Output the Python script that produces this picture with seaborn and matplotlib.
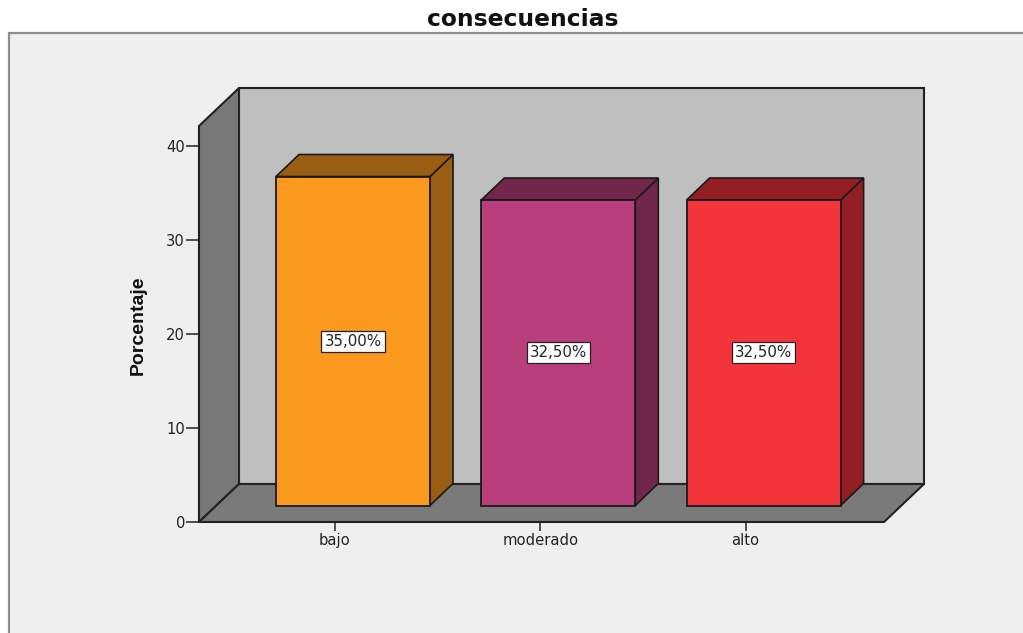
import matplotlib
matplotlib.use("Agg")
import matplotlib.pyplot as plt
import matplotlib.transforms as mtrans
from matplotlib.patches import Polygon, Rectangle
import pandas as pd
import seaborn as sns

categorias = ["bajo", "moderado", "alto"]
porcentajes = [35.0, 32.5, 32.5]
etiquetas = ["35,00%", "32,50%", "32,50%"]
yticks = [0, 10, 20, 30, 40]
colores = ["#FB991E", "#B93E7C", "#F3343B"]
colores_lado = ["#9A5E12", "#72264C", "#931F24"]
TITULO = "consecuencias"
YLABEL = "Porcentaje"

W, H = 1023, 633
sns.set_theme(style="white")
fig = plt.figure(figsize=(W / 100, H / 100), dpi=100, facecolor="white")

# panel background
fig.add_artist(Rectangle((8.5 / W, -0.1), 1.2, (H - 33) / H + 0.1, transform=fig.transFigure,
                         facecolor="#EFEFEF", edgecolor="#8E8E8E", linewidth=1.6, zorder=-5))

L, R, B, T = 199, 884, 522, 88
ax = fig.add_axes([L / W, (H - B) / H, (R - L) / W, (B - T) / H])
ax.set_zorder(5)
ax.patch.set_alpha(0)
for s in ax.spines.values():
    s.set_visible(False)

PX_Y = 9.4
PX_X = 205.3
ax.set_ylim(0, (B - T) / PX_Y)
ax.set_xlim((L - 335) / PX_X, (R - 335) / PX_X)
x0, x1 = ax.get_xlim()

df = pd.DataFrame({"categoria": categorias, "porcentaje": porcentajes})
sns.barplot(data=df, x="categoria", y="porcentaje", hue="categoria", palette=colores,
            order=categorias, hue_order=categorias, legend=False, saturation=1,
            width=154 / PX_X, edgecolor="#1a1a1a", linewidth=1.3, ax=ax, zorder=5)
ax.set_xlim(x0, x1)
ax.set_ylim(0, (B - T) / PX_Y)
barras = list(ax.patches[:3])

# room: depth of the 3D box
dx, dy = 40 / PX_X, 38 / PX_Y
wall_h = (B - 126) / PX_Y
lw = 1.5
ek = "#222222"
ax.add_patch(Polygon([(x0 + dx, dy), (x1 + dx, dy), (x1 + dx, wall_h + dy), (x0 + dx, wall_h + dy)],
                     facecolor="#BFBFBF", edgecolor=ek, lw=lw, clip_on=False, zorder=1))
ax.add_patch(Polygon([(x0, 0), (x0 + dx, dy), (x0 + dx, wall_h + dy), (x0, wall_h)],
                     facecolor="#787878", edgecolor=ek, lw=lw, clip_on=False, zorder=2))
ax.add_patch(Polygon([(x0, 0), (x1, 0), (x1 + dx, dy), (x0 + dx, dy)],
                     facecolor="#7A7A7A", edgecolor=ek, lw=lw, clip_on=False, zorder=2))

# bars: move front faces into the room and add side/top faces
shift = mtrans.ScaledTranslation(18 / 100, 16.5 / 100, fig.dpi_scale_trans)
tr = ax.transData + shift
bx, by = 23 / PX_X, 22 / PX_Y
for bar, v, lado, etq in zip(barras, porcentajes, colores_lado, etiquetas):
    bar.set_transform(tr)
    bar.set_clip_on(False)
    xa, xb = bar.get_x(), bar.get_x() + bar.get_width()
    ax.add_patch(Polygon([(xb, 0), (xb + bx, by), (xb + bx, v + by), (xb, v)], transform=tr,
                         facecolor=lado, edgecolor="#1a1a1a", lw=1.2, clip_on=False, zorder=4))
    ax.add_patch(Polygon([(xa, v), (xb, v), (xb + bx, v + by), (xa + bx, v + by)], transform=tr,
                         facecolor=lado, edgecolor="#1a1a1a", lw=1.2, clip_on=False, zorder=4))
    ax.text((xa + xb) / 2, v / 2, etq, transform=tr, ha="center", va="center", zorder=6,
            family="DejaVu Sans", fontsize=10.8, color="#222222",
            bbox=dict(boxstyle="square,pad=0.2", facecolor="white", edgecolor="#222222", linewidth=0.9))

ax.set_yticks(yticks)
ax.set_yticklabels([str(t) for t in yticks], family="DejaVu Sans", fontsize=10.6, color="#222222")
ax.set_xticks(range(len(categorias)))
ax.set_xticklabels(categorias, family="DejaVu Sans", fontsize=10.6, color="#222222")
ax.tick_params(axis="y", left=True, length=9.5, width=1.1, color="#222222", pad=0.5)
ax.tick_params(axis="x", bottom=True, length=6.5, width=1.1, color="#222222", pad=1.5)
ax.set_xlabel("")
ax.set_ylabel("")

fig.text(138 / W, 1 - 325 / H, YLABEL, rotation=90, ha="center", va="center", fontsize=14,
         fontweight="bold", family=["Liberation Sans Narrow", "Liberation Sans"], color="#111111")
fig.text(523 / W, 1 - 20 / H, TITULO, ha="center", va="center", fontsize=16.8,
         fontweight="bold", family="DejaVu Sans", color="#111111")

fig.savefig("out.png", dpi=100, facecolor="white")
